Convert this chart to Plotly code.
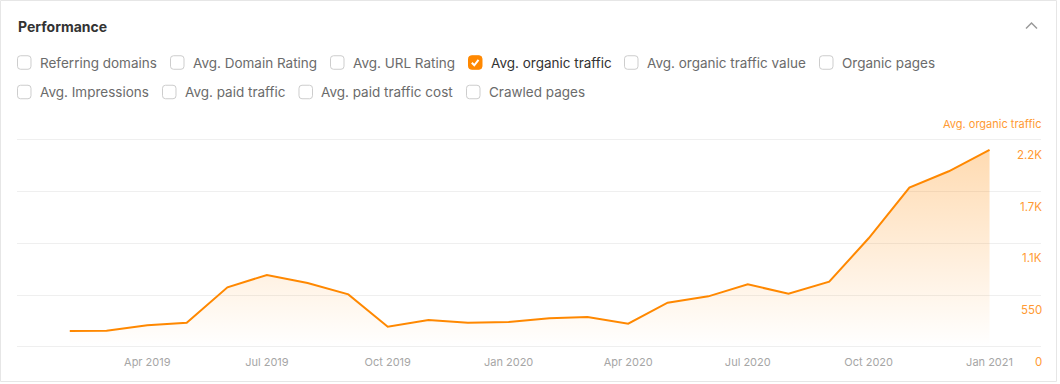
import plotly.graph_objects as go

# ---------------- data ----------------
months = ["2019-02-01", "2019-03-01", "2019-04-01", "2019-05-01", "2019-06-01", "2019-07-01",
          "2019-08-01", "2019-09-01", "2019-10-01", "2019-11-01", "2019-12-01", "2020-01-01",
          "2020-02-01", "2020-03-01", "2020-04-01", "2020-05-01", "2020-06-01", "2020-07-01",
          "2020-08-01", "2020-09-01", "2020-10-01", "2020-11-01", "2020-12-01", "2021-01-01"]
organic_traffic = [167, 170, 228, 256, 632, 763, 678, 557, 213, 284, 256, 263,
                   302, 316, 245, 469, 536, 664, 564, 692, 1154, 1693, 1867, 2094]

x_tick_vals = ["2019-04-01", "2019-07-01", "2019-10-01", "2020-01-01",
               "2020-04-01", "2020-07-01", "2020-10-01", "2021-01-01"]
x_tick_text = ["Apr 2019", "Jul 2019", "Oct 2019", "Jan 2020",
               "Apr 2020", "Jul 2020", "Oct 2020", "Jan 2021"]
y_tick_vals = [0, 550, 1100, 1650, 2200]
y_tick_text = ["0", "550", "1.1K", "1.7K", "2.2K"]

row1_labels = ["Referring domains", "Avg. Domain Rating", "Avg. URL Rating",
               "Avg. organic traffic", "Avg. organic traffic value", "Organic pages"]
row2_labels = ["Avg. Impressions", "Avg. paid traffic", "Avg. paid traffic cost", "Crawled pages"]
checked = "Avg. organic traffic"
title_text = "Performance"
series_name = "Avg. organic traffic"

# ---------------- layout geometry (pixels) ----------------
W, H = 1060, 384
ML, MR, MT, MB = 17, 19, 135, 34
PW = W - ML - MR
PH = H - MT - MB
FONT = "Inter, Roboto, 'Noto Sans', sans-serif"
ORANGE = "#ff8800"


def px(x):
    return (x - ML) / PW


def py(y):
    return (H - MB - y) / PH


fig = go.Figure()
fig.add_trace(go.Scatter(
    x=months, y=organic_traffic, mode="lines", name=series_name,
    line=dict(color=ORANGE, width=2),
    fill="tozeroy",
    fillgradient=dict(type="vertical", start=0, stop=2200,
                      colorscale=[[0, "rgba(255,136,0,0.0)"], [1, "rgba(255,136,0,0.32)"]]),
    hovertemplate="%{x|%b %Y}: %{y}<extra></extra>",
))

shapes = []
annotations = []

# card border
shapes.append(dict(type="rect", xref="paper", yref="paper",
                   x0=px(0.5), x1=px(1056.5), y0=py(381.5), y1=py(0.5),
                   line=dict(color="#e6e6e6", width=1), fillcolor="rgba(0,0,0,0)", layer="below"))

# title
annotations.append(dict(text="<b>" + title_text + "</b>", xref="paper", yref="paper",
                        x=px(16), y=py(26), xanchor="left", yanchor="middle", showarrow=False,
                        font=dict(family=FONT, size=14, color="#333333")))

# chevron
shapes.append(dict(type="path", xref="paper", yref="paper",
                   path="M {} {} L {} {} L {} {}".format(px(1026), py(28.5), px(1031.5), py(23),
                                                          px(1037), py(28.5)),
                   line=dict(color="#9a9a9a", width=1.5)))


def rounded_box(x0, y0, s=13.5, r=3):
    x1, y1 = x0 + s, y0 + s
    pts = [
        ("M", [(x0 + r, y0)]), ("L", [(x1 - r, y0)]), ("Q", [(x1, y0), (x1, y0 + r)]),
        ("L", [(x1, y1 - r)]), ("Q", [(x1, y1), (x1 - r, y1)]), ("L", [(x0 + r, y1)]),
        ("Q", [(x0, y1), (x0, y1 - r)]), ("L", [(x0, y0 + r)]), ("Q", [(x0, y0), (x0 + r, y0)]),
    ]
    out = []
    for cmd, ps in pts:
        out.append(cmd + " " + " ".join("{:.5f},{:.5f}".format(px(a), py(b)) for a, b in ps))
    return " ".join(out) + " Z"


row1_box_x = [17, 170, 330, 468, 624, 819]
row2_box_x = [17, 162, 298.5, 466]
rows = [(row1_labels, row1_box_x, 62.5), (row2_labels, row2_box_x, 92)]
for labels, xs, yc in rows:
    for lab, bx in zip(labels, xs):
        is_on = lab == checked
        by = yc - 6.75
        shapes.append(dict(type="path", xref="paper", yref="paper", path=rounded_box(bx + 0.5, by),
                           line=dict(color=ORANGE if is_on else "#cdcdcd", width=1),
                           fillcolor=ORANGE if is_on else "white"))
        if is_on:
            shapes.append(dict(type="path", xref="paper", yref="paper",
                               path="M {} {} L {} {} L {} {}".format(
                                   px(bx + 3.8), py(yc + 0.2), px(bx + 6.3), py(yc + 2.8),
                                   px(bx + 10.5), py(yc - 2.6)),
                               line=dict(color="white", width=2)))
        annotations.append(dict(text=lab, xref="paper", yref="paper", x=px(bx + 20.5), y=py(yc),
                                xanchor="left", yanchor="middle", showarrow=False,
                                font=dict(family=FONT, size=13.5,
                                          color="#333333" if is_on else "#6b6b6b")))

# series label top-right
annotations.append(dict(text=series_name, xref="paper", yref="paper", x=px(1043), y=py(123.5),
                        xanchor="right", yanchor="middle", showarrow=False,
                        font=dict(family=FONT, size=11, color="#ff9a33")))

# y tick labels sit just below their gridlines, right-aligned at the plot edge
for v, t in zip(y_tick_vals, y_tick_text):
    annotations.append(dict(text=t, xref="paper", yref="y", x=px(1043.5), y=v,
                            xanchor="right", yanchor="middle", yshift=-15, showarrow=False,
                            font=dict(family=FONT, size=11.5, color="#ff9a33")))

fig.update_layout(
    width=W, height=H,
    margin=dict(l=ML, r=MR, t=MT, b=MB, pad=0),
    paper_bgcolor="white", plot_bgcolor="white",
    showlegend=False,
    font=dict(family=FONT),
    shapes=shapes, annotations=annotations,
    xaxis=dict(
        type="date",
        range=["2018-12-22 20:00", "2021-02-09 04:00"],
        tickvals=x_tick_vals, ticktext=x_tick_text,
        showgrid=False, zeroline=False, showline=False, ticks="",
        ticklabelstandoff=4,
        tickfont=dict(family=FONT, size=11, color="#a6a6a6"),
        fixedrange=True,
    ),
    yaxis=dict(
        side="right",
        range=[-35, 2253],
        tickvals=y_tick_vals,
        showticklabels=False,
        showgrid=True, gridcolor="#efefef", gridwidth=1,
        zeroline=False, showline=False, ticks="",
        fixedrange=True,
    ),
)

fig.write_html("out.html", config={"displayModeBar": False},
               post_script="document.body.style.margin='0';")
